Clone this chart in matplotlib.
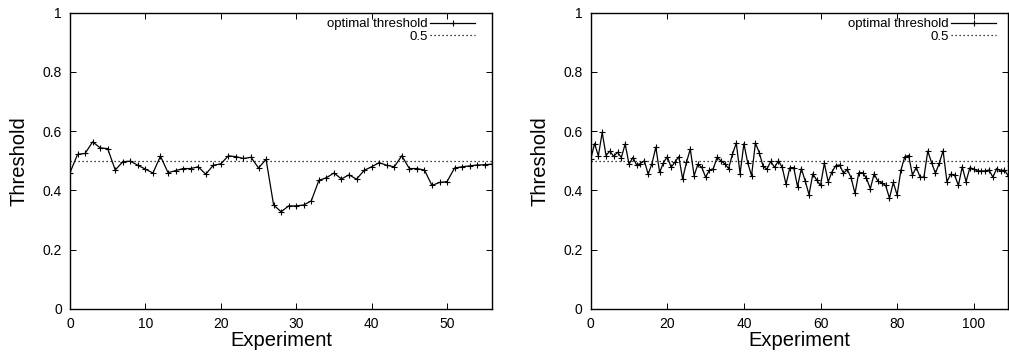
import matplotlib
matplotlib.use("Agg")
import matplotlib.pyplot as plt
import numpy as np

plt.rcParams['font.family'] = ['Liberation Sans', 'DejaVu Sans']

# Left panel: 57 experiments
left_x = list(range(57))
left_y = [0.460, 0.522, 0.525, 0.564, 0.544, 0.541, 0.469, 0.497, 0.499, 0.485,
          0.472, 0.459, 0.516, 0.460, 0.467, 0.474, 0.474, 0.480, 0.455, 0.485,
          0.490, 0.517, 0.514, 0.508, 0.512, 0.476, 0.505, 0.351, 0.328, 0.348,
          0.348, 0.351, 0.365, 0.434, 0.443, 0.459, 0.439, 0.453, 0.438, 0.468,
          0.480, 0.494, 0.485, 0.480, 0.517, 0.474, 0.474, 0.469, 0.417, 0.427,
          0.430, 0.476, 0.480, 0.483, 0.486, 0.487, 0.489]

# Right panel: 110 experiments
right_x = list(range(110))
right_y = [0.505, 0.558, 0.517, 0.596, 0.518, 0.533, 0.515, 0.529, 0.511, 0.557,
           0.489, 0.511, 0.486, 0.491, 0.500, 0.455, 0.491, 0.546, 0.461, 0.494,
           0.514, 0.478, 0.496, 0.514, 0.439, 0.495, 0.540, 0.450, 0.489, 0.478,
           0.445, 0.469, 0.473, 0.512, 0.500, 0.490, 0.474, 0.522, 0.560, 0.457,
           0.558, 0.493, 0.450, 0.560, 0.528, 0.482, 0.472, 0.498, 0.478, 0.500,
           0.478, 0.421, 0.477, 0.477, 0.413, 0.474, 0.432, 0.386, 0.456, 0.435,
           0.417, 0.492, 0.429, 0.463, 0.484, 0.486, 0.458, 0.471, 0.442, 0.390,
           0.460, 0.460, 0.441, 0.406, 0.456, 0.431, 0.426, 0.417, 0.374, 0.427,
           0.385, 0.469, 0.514, 0.518, 0.452, 0.478, 0.445, 0.445, 0.533, 0.494,
           0.458, 0.492, 0.534, 0.430, 0.455, 0.452, 0.417, 0.480, 0.430, 0.477,
           0.472, 0.466, 0.466, 0.466, 0.469, 0.445, 0.474, 0.466, 0.469, 0.450]

ref_value = 0.5
y_ticks = [0, 0.2, 0.4, 0.6, 0.8, 1]
y_ticklabels = ["0", "0.2", "0.4", "0.6", "0.8", "1"]
left_xticks = [0, 10, 20, 30, 40, 50]
right_xticks = [0, 20, 40, 60, 80, 100]

W, H = 1009, 358
fig = plt.figure(figsize=(W / 100, H / 100), dpi=100)

def px_axes(l, r, t, b):
    return fig.add_axes([l / W, 1 - b / H, (r - l) / W, (b - t) / H])

ax1 = px_axes(70, 492.3, 12.7, 309)
ax2 = px_axes(590.7, 1008.2, 12.7, 309)

panels = [
    (ax1, left_x, left_y, left_xticks, 0.959, 422.3),
    (ax2, right_x, right_y, right_xticks, 0.971, 417.5),
]

for ax, xs, ys, xt, lx, wpx in panels:
    ax.plot(xs, ys, color='black', lw=0.9, marker='+', markersize=5,
            markeredgewidth=0.8, label='optimal threshold')
    ax.axhline(ref_value, color='black', lw=0.9, linestyle=(0, (1, 2.2)),
               label='0.5')
    ax.set_xlim(xs[0], xs[-1])
    ax.set_ylim(0, 1)
    ax.set_yticks(y_ticks)
    ax.set_yticklabels(y_ticklabels)
    ax.set_xticks(xt)
    ax.tick_params(direction='in', top=True, right=True, length=4, width=0.7,
                   labelsize=10)
    ax.tick_params(axis='y', pad=5.8)
    ax.tick_params(axis='x', pad=6)
    for s in ax.spines.values():
        s.set_linewidth(1.0)
    ax.set_xlabel('Experiment', fontsize=14.5)
    ax.set_ylabel('Threshold', fontsize=14.5)
    ax.xaxis.set_label_coords(0.5, -22.0 / 296.3)
    ax.yaxis.set_label_coords(-41.0 / wpx, 0.5)
    leg = ax.legend(loc='upper right', bbox_to_anchor=(lx, 0.982),
                    frameon=False, markerfirst=False, fontsize=9.5,
                    handlelength=3.4, handletextpad=0.2, labelspacing=0.0,
                    borderpad=0, borderaxespad=0, numpoints=1)

fig.savefig('out.png', dpi=100)
